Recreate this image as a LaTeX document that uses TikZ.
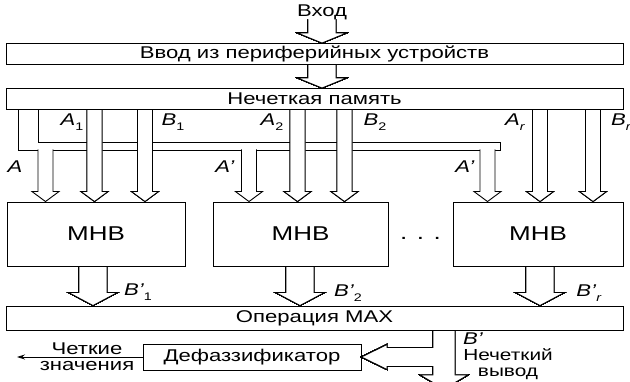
\documentclass[tikz,border=0pt]{standalone}
\usepackage{fontspec}
\setmainfont{Liberation Sans}[FakeStretch=1.3]
\usetikzlibrary{arrows.meta,backgrounds,calc}
\newcommand{\osn}{\fontsize{17}{16}\selectfont}
\newcommand{\idx}[2]{\textit{#1}\raisebox{-0.5ex}{\fontsize{11}{11}\selectfont #2}}
\newcommand{\idxsh}[2]{\textit{#1'}\raisebox{-0.6ex}{\fontsize{11}{11}\selectfont #2}}
% fat down arrow: x, from, to, shaft half, head half, head length
\newcommand{\strelka}[6]{%
  \draw[tolstaya] let \p1=(#2), \p2=(#3) in
    ({#1pt-#4pt},\y1) -- ({#1pt-#4pt},\y2+#6pt) -- ({#1pt-#5pt},\y2+#6pt) -- (#1pt,\y2)
    -- ({#1pt+#5pt},\y2+#6pt) -- ({#1pt+#4pt},\y2+#6pt) -- ({#1pt+#4pt},\y1);}
\tikzset{
  blok/.style={draw,line width=0.9pt,inner sep=0pt,font=\osn},
  polosa/.style={blok,minimum width=617pt,minimum height=21pt},
  mhb/.style={blok,minimum height=64pt,font=\fontsize{20}{20}\selectfont},
  tolstaya/.style={draw,line width=0.9pt,fill=white,line join=miter},
  metka/.style={font=\osn,inner sep=0pt},
  tonkaya/.style={-{Stealth[length=8pt,width=5pt]},line width=0.8pt},
}
\begin{document}
\begin{tikzpicture}[x=1pt,y=-1pt]
  \useasboundingbox (0,0) rectangle (630,382);
  \node[metka] (vhod) at (322,12) {Вход};
  \node[polosa] (vvod) at (314.5,54) {Ввод из периферийных устройств};
  \node[polosa] (pamyat) at (314.5,99) {Нечеткая память};
  \node[mhb,minimum width=178pt] (mhb1) at (96,234) {МНВ};
  \node[mhb,minimum width=175pt] (mhb2) at (300.5,234) {МНВ};
  \node[mhb,minimum width=170pt] (mhb3) at (538,234) {МНВ};
  \node[metka,font=\fontsize{20}{20}\selectfont] (tochki) at ([yshift=-4pt]$(mhb2.east)!0.5!(mhb3.west)$) {. . .};
  \node[polosa,minimum height=24pt] (op) at (314.5,318) {Операция MAX};
  \node[blok,minimum width=218pt,minimum height=26pt] (defuz) at (252,357) {Дефаззификатор};
  \node[metka,align=center] (chetkie) at (87,357) {Четкие\\значения};
  \node[metka,align=center,font=\fontsize{16}{16.5}\selectfont] (nechvyvod) at (508,364) {Нечеткий\\вывод};
  \coordinate (vyhod) at (17,357);
  \coordinate (shina) at (0,149.5);
  % labels
  \foreach \n/\lx/\ly/\t in {la1/72/122/{\idx{A}{1}},lb1/173/122/{\idx{B}{1}},
      la2/272/122/{\idx{A}{2}},lb2/375/122/{\idx{B}{2}},
      lar/515/122/{\idx{A}{\textit{r}}},lbr/621/122/{\idx{B}{\textit{r}}},
      la/15/167/{\textit{A}},lsh2/225/167/{\textit{A'}},lsh3/465/167/{\textit{A'}},
      lo1/138/292/{\idxsh{B}{1}},lo2/348/293/{\idxsh{B}{2}},lor/589/293/{\idxsh{B}{\textit{r}}},
      lout/473/339/{\textit{B'}}}
    \node[metka] (\n) at (\lx,\ly) {\t};
  \begin{scope}[on background layer]
    % bus A
    \draw[tolstaya] (pamyat.south -| 18,0) |- (500,150) |- (38,142) -- (pamyat.south -| 38,0);
    \foreach \sx/\b in {45.5/mhb1,249/mhb2,487.5/mhb3}
      \strelka{\sx}{shina}{\b.north}{7.5}{13.5}{10}
    \foreach \sx/\b in {94.5/mhb1,145/mhb1,297.5/mhb2,344.5/mhb2,540/mhb3,593/mhb3}
      \strelka{\sx}{pamyat.south}{\b.north}{7.5}{13.5}{10}
    \strelka{322}{vhod.south}{vvod.north}{14}{24.5}{10}
    \strelka{322}{vvod.south}{pamyat.north}{14}{24.5}{10}
    \foreach \sx/\a in {93/mhb1,300/mhb2,540/mhb3}
      \strelka{\sx}{\a.south}{op.north}{14}{24.5}{13}
    \draw[tolstaya] let \p1=(op.south), \p2=(defuz.east) in
      (433pt,\y1) -- (433pt,\y2+9.5pt) -- (387pt,\y2+9.5pt) -- (387pt,\y2+12.5pt) -- (\x2,\y2)
      -- (387pt,\y2-12.5pt) -- (387pt,\y2-9.5pt) -- (433pt,\y2-9.5pt) -- (433,375)
      -- (420,375) -- (444,389) -- (468,375) -- (455,375) -- (455pt,\y1);
  \end{scope}
  \draw[tonkaya] (defuz.west) -- (vyhod);
\end{tikzpicture}
\end{document}
